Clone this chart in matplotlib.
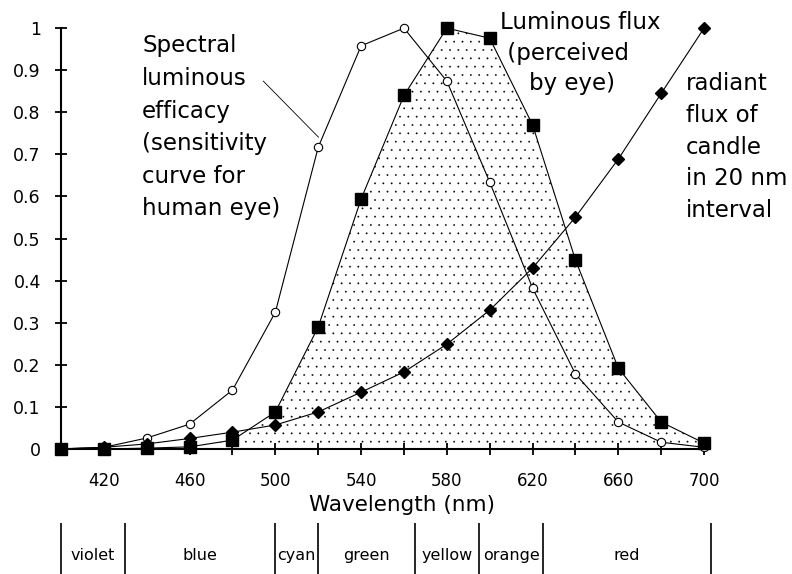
import matplotlib
matplotlib.use('Agg')
import matplotlib.pyplot as plt

# wavelength grid (nm) and the three curves
wavelength = [400, 420, 440, 460, 480, 500, 520, 540, 560, 580, 600, 620, 640, 660, 680, 700]
efficacy = [0.0004, 0.004, 0.026, 0.059, 0.14, 0.325, 0.717, 0.958, 1.0, 0.874,
            0.634, 0.382, 0.178, 0.064, 0.016, 0.004]
lum_flux = [0.0, 0.0, 0.002, 0.005, 0.021, 0.088, 0.29, 0.594, 0.84, 1.0,
            0.976, 0.77, 0.449, 0.192, 0.064, 0.014]
radiant = [0.0, 0.004, 0.012, 0.025, 0.04, 0.057, 0.088, 0.135, 0.183, 0.249,
           0.33, 0.43, 0.551, 0.689, 0.845, 1.0]

xtick_major = [420, 460, 500, 540, 580, 620, 660, 700]
xtick_minor = [440, 480, 520, 560, 600, 640, 680]
ytick_vals = [0, 0.1, 0.2, 0.3, 0.4, 0.5, 0.6, 0.7, 0.8, 0.9, 1]
ytick_labels = ['0', '0.1', '0.2', '0.3', '0.4', '0.5', '0.6', '0.7', '0.8', '0.9', '1']

band_edges = [400, 430, 500, 520, 565, 595, 625, 703]
band_names = ['violet', 'blue', 'cyan', 'green', 'yellow', 'orange', 'red']

plt.rcParams['font.family'] = 'DejaVu Sans'
plt.rcParams['hatch.linewidth'] = 0.1

fig = plt.figure(figsize=(7.92, 5.74), dpi=100)
ax = fig.add_axes([0.077, 0.2178, 0.812, 0.7332])

ax.fill_between(wavelength, lum_flux, 0, facecolor='white', edgecolor='black',
                hatch='..', linewidth=0, zorder=1)

ax.plot(wavelength, efficacy, color='black', lw=0.8, marker='o', ms=6,
        mfc='white', mec='black', mew=0.8, clip_on=False, zorder=3)
ax.plot(wavelength, radiant, color='black', lw=0.8, marker='D', ms=6,
        mfc='black', mec='black', clip_on=False, zorder=4)
ax.plot(wavelength, lum_flux, color='black', lw=0.8, marker='s', ms=8.5,
        mfc='black', mec='black', clip_on=False, zorder=5)

ax.set_xlim(400, 700)
ax.set_ylim(0, 1)
for s in ['top', 'right']:
    ax.spines[s].set_visible(False)
for s in ['left', 'bottom']:
    ax.spines[s].set_linewidth(1.5)

ax.set_xticks(xtick_major)
ax.set_xticks(xtick_minor, minor=True)
ax.set_yticks(ytick_vals)
ax.set_yticklabels(ytick_labels)
ax.tick_params(axis='both', which='both', direction='inout', length=9, width=1.3)
ax.tick_params(axis='x', which='major', labelsize=12, pad=12)
ax.tick_params(axis='y', labelsize=12.5, pad=10)

fig.text(402 / 792, 1 - 505 / 574, 'Wavelength (nm)', fontsize=15.5,
         ha='center', va='center')

# curve labels
ax.text(437.9, 0.985, 'Spectral\nluminous\nefficacy\n(sensitivity\ncurve for\nhuman eye)',
        fontsize=16.5, ha='left', va='top', linespacing=1.53)
ax.plot([494.4, 520.1], [0.874, 0.741], color='black', lw=0.6)
ax.text(605, 1.04, 'Luminous flux\n (perceived\n    by eye)',
        fontsize=16.5, ha='left', va='top', linespacing=1.42)
ax.text(691.6, 0.895, 'radiant\nflux of\ncandle\nin 20 nm\ninterval',
        fontsize=16.5, ha='left', va='top', linespacing=1.48, clip_on=False)

# colour band strip under the axis
bx = fig.add_axes([0.077, 0.0, 0.812, 51 / 574])
bx.set_xlim(400, 700)
bx.set_ylim(0, 1)
bx.axis('off')
bx.vlines(band_edges, 0, 1, color='black', lw=1.2, clip_on=False)
for i, name in enumerate(band_names):
    mid = (band_edges[i] + band_edges[i + 1]) / 2
    bx.text(mid, 0.37, name, fontsize=11.5, ha='center', va='center')

fig.savefig('out.png', dpi=100)
